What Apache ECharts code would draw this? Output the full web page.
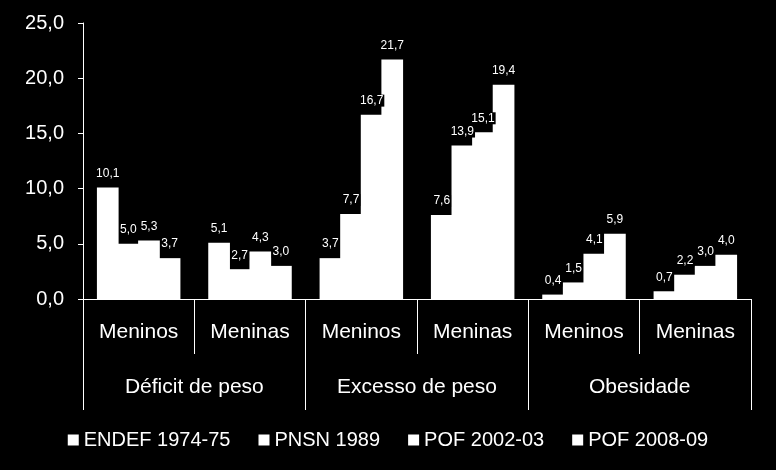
<!DOCTYPE html>
<html lang="pt">
<head>
    <meta charset="UTF-8">
    <title>Déficit de peso, excesso de peso e obesidade</title>
    <script src="https://cdn.jsdelivr.net/npm/echarts@6/dist/echarts.min.js"></script>
    <style>
        html, body { margin: 0; padding: 0; background: #000; }
        #charts { width: 776px; height: 470px; }
    </style>
</head>
<body>
<div id="charts"></div>
<script>
    // categorias (nível interno e externo do eixo x)
    var sexos = ['Meninos', 'Meninas', 'Meninos', 'Meninas', 'Meninos', 'Meninas'];
    var grupos = ['Déficit de peso', 'Excesso de peso', 'Obesidade'];
    var pesquisas = ['ENDEF 1974-75', 'PNSN 1989', 'POF 2002-03', 'POF 2008-09'];

    // valores (%) por pesquisa
    var endef = [10.1, 5.1, 3.7, 7.6, 0.4, 0.7];
    var pnsn = [5.0, 2.7, 7.7, 13.9, 1.5, 2.2];
    var pof2002 = [5.3, 4.3, 16.7, 15.1, 4.1, 3.0];
    var pof2008 = [3.7, 3.0, 21.7, 19.4, 5.9, 4.0];
    var valores = [endef, pnsn, pof2002, pof2008];

    var fonte = '"Liberation Sans", Arial, sans-serif';

    function virgula(v) {
        return Number(v).toFixed(1).replace('.', ',');
    }

    var myChart = echarts.init(document.getElementById('charts'));

    var series = pesquisas.map(function (nome, i) {
        return {
            name: nome,
            type: 'bar',
            xAxisIndex: 0,
            data: valores[i],
            barGap: '-5%',
            barCategoryGap: '25%',
            itemStyle: {
                color: '#fff'
            },
            label: {
                show: true,
                position: 'top',
                distance: 8,
                color: '#fff',
                fontSize: 12,
                fontFamily: fonte,
                backgroundColor: '#000',
                padding: [0, 1],
                formatter: function (p) { return virgula(p.value); }
            }
        };
    });

    var option = {
        backgroundColor: '#000',
        animation: false,
        grid: { left: 83, right: 25, top: 23, bottom: 171 },
        legend: {
            data: pesquisas,
            left: 'center',
            top: 425,
            icon: 'rect',
            itemWidth: 11,
            itemHeight: 11,
            itemGap: 28,
            textStyle: { color: '#fff', fontSize: 20, fontFamily: fonte }
        },
        xAxis: [
            {
                type: 'category',
                data: sexos,
                axisLine: { show: true, lineStyle: { color: '#fff', width: 1 } },
                axisTick: { show: true, interval: 0, length: 55, lineStyle: { color: '#fff' } },
                axisLabel: { interval: 0, color: '#fff', fontSize: 21, fontFamily: fonte, margin: 23 }
            },
            {
                type: 'category',
                data: grupos,
                position: 'bottom',
                axisLine: { show: false },
                axisTick: { show: true, interval: 0, length: 111, lineStyle: { color: '#fff' } },
                axisLabel: { interval: 0, color: '#fff', fontSize: 21, fontFamily: fonte, margin: 78 }
            }
        ],
        yAxis: {
            type: 'value',
            min: 0,
            max: 25,
            interval: 5,
            axisLine: { show: true, lineStyle: { color: '#fff' } },
            axisTick: { show: true, length: 5, lineStyle: { color: '#fff' } },
            splitLine: { show: false },
            axisLabel: {
                color: '#fff', fontSize: 20, fontFamily: fonte, margin: 19,
                formatter: virgula
            }
        },
        series: series
    };

    myChart.setOption(option);
</script>
</body>
</html>
